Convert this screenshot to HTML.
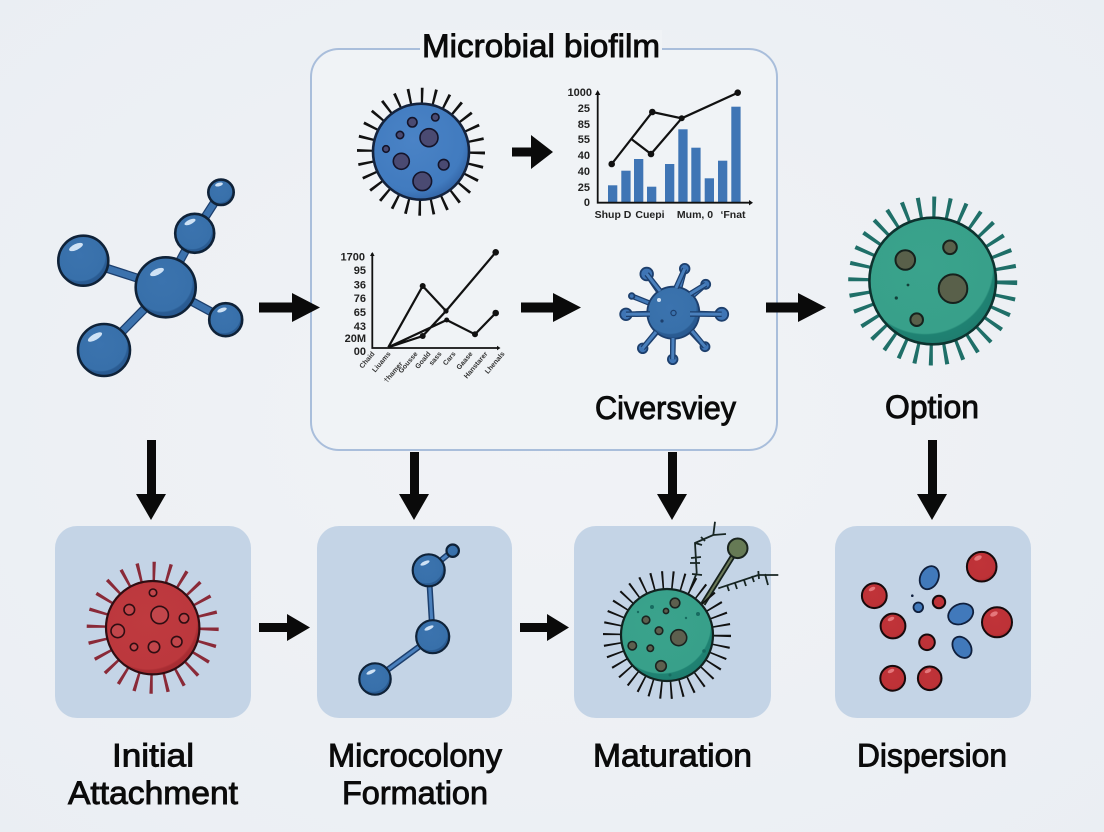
<!DOCTYPE html>
<html><head><meta charset="utf-8"><style>
html,body{margin:0;padding:0;background:#eff2f6}
svg{display:block}
text{font-family:"Liberation Sans",sans-serif;fill:#0b0b0b}
.t{font-size:32px;stroke:#0b0b0b;stroke-width:.9;text-anchor:middle}
.yl{font-size:11px;font-weight:bold;text-anchor:end;fill:#222}
.xl{font-size:10.5px;font-weight:bold;text-anchor:middle;fill:#222}
.rl{font-size:7px;font-weight:bold;text-anchor:end;fill:#333}
.hl{fill:#cfe2f5}
</style></head><body>
<svg width="1104" height="832" viewBox="0 0 1104 832" xmlns="http://www.w3.org/2000/svg">
<defs>
<radialGradient id="bg" cx="50%" cy="50%" r="75%"><stop offset="0" stop-color="#f1f3f6"/><stop offset="1" stop-color="#eaeef3"/></radialGradient>
<radialGradient id="mb" cx="44%" cy="40%" r="62%"><stop offset="0" stop-color="#3b73ae"/><stop offset=".8" stop-color="#3870aa"/><stop offset=".84" stop-color="#2a5c93"/><stop offset="1" stop-color="#285890"/></radialGradient>
<radialGradient id="gr" cx="44%" cy="38%" r="62%"><stop offset="0" stop-color="#3aa38c"/><stop offset=".86" stop-color="#38a08a"/><stop offset=".88" stop-color="#1f8272"/><stop offset="1" stop-color="#1f7e70"/></radialGradient>
<radialGradient id="rd" cx="45%" cy="42%" r="62%"><stop offset="0" stop-color="#bf3a3f"/><stop offset=".84" stop-color="#bc383d"/><stop offset=".87" stop-color="#a92d33"/><stop offset="1" stop-color="#a52b31"/></radialGradient>
<radialGradient id="rb" cx="45%" cy="40%" r="62%"><stop offset="0" stop-color="#c03338"/><stop offset=".8" stop-color="#bd3237"/><stop offset="1" stop-color="#a3262c"/></radialGradient>
<radialGradient id="bc" cx="42%" cy="38%" r="62%"><stop offset="0" stop-color="#4a83c6"/><stop offset=".85" stop-color="#417bbf"/><stop offset="1" stop-color="#3669ab"/></radialGradient>
</defs>
<rect width="1104" height="832" fill="url(#bg)"/>

<!-- frame -->
<rect x="311" y="49" width="466" height="401" rx="28" fill="#f0f3f6" stroke="#a9bedb" stroke-width="2"/>
<rect x="420" y="30" width="242" height="30" fill="#f0f3f6"/>
<text class="t" x="541" y="57" textLength="238" lengthAdjust="spacingAndGlyphs">Microbial biofilm</text>

<!-- panels -->
<rect x="55" y="526" width="196" height="192" rx="22" fill="#c4d4e6"/>
<rect x="317" y="526" width="195" height="192" rx="22" fill="#c4d4e6"/>
<rect x="574" y="526" width="197" height="192" rx="22" fill="#c4d4e6"/>
<rect x="835" y="526" width="196" height="192" rx="22" fill="#c4d4e6"/>

<!-- main molecule -->
<path d="M165.7 287.3L83.3 260.7M165.7 287.3L104 350M165.7 287.3L225.7 319.7M165.7 287.3L194.7 233.3M194.7 233.3L221 192.3" stroke="#1d3f6d" stroke-width="9" fill="none"/>
<path d="M165.7 287.3L83.3 260.7M165.7 287.3L104 350M165.7 287.3L225.7 319.7M165.7 287.3L194.7 233.3M194.7 233.3L221 192.3" stroke="#3c72ad" stroke-width="6.5" fill="none"/>
<g stroke="#0f2238" stroke-width="2.6" fill="url(#mb)">
<circle cx="83.3" cy="260.7" r="25"/>
<circle cx="104" cy="350" r="26"/>
<circle cx="225.7" cy="319.7" r="16.5"/>
<circle cx="194.7" cy="233.3" r="19.5"/>
<circle cx="221" cy="192.3" r="12.7"/>
<circle cx="165.7" cy="287.3" r="30"/>
</g>
<g class="hl">
<ellipse cx="76" cy="247" rx="7.5" ry="3" transform="rotate(-25 76 247)"/>
<ellipse cx="95" cy="337" rx="8" ry="3" transform="rotate(-30 95 337)"/>
<ellipse cx="222" cy="310" rx="5" ry="2" transform="rotate(-20 222 310)"/>
<ellipse cx="190" cy="222" rx="6" ry="2.3" transform="rotate(-25 190 222)"/>
<ellipse cx="219" cy="184.5" rx="4" ry="1.8" transform="rotate(-15 219 184.5)"/>
<ellipse cx="157" cy="272" rx="7.5" ry="3" transform="rotate(-25 157 272)"/>
</g>

<!-- blue cell -->
<circle cx="421" cy="151.7" r="56" fill="none" stroke="#111" stroke-width="16" pathLength="28" stroke-dasharray=".2 .8"/>
<circle cx="421" cy="151.7" r="48" fill="url(#bc)" stroke="#14233d" stroke-width="2.6"/>
<g fill="#4a4a72" stroke="#14142a" stroke-width="1.6">
<circle cx="412.3" cy="122.3" r="4.7"/><circle cx="435.3" cy="117.3" r="3.7"/><circle cx="400" cy="135" r="3.7"/><circle cx="429" cy="137.7" r="9"/><circle cx="386" cy="149" r="3.3"/><circle cx="401.3" cy="161.3" r="8"/><circle cx="443.7" cy="164.7" r="5.3"/><circle cx="422.3" cy="181.3" r="9.3"/>
</g>

<!-- chart 1 -->
<g fill="#3f75b5">
<rect x="608" y="185.3" width="9.3" height="17.4"/><rect x="621.3" y="170.7" width="9.3" height="32"/><rect x="634" y="159" width="9.3" height="43.7"/><rect x="647" y="186.7" width="9.3" height="16"/><rect x="665" y="164" width="9.3" height="38.7"/><rect x="678.3" y="129.3" width="9.3" height="73.4"/><rect x="691.3" y="147.7" width="9.3" height="55"/><rect x="704.7" y="178.3" width="9.3" height="24.4"/><rect x="718" y="160.7" width="9.3" height="42"/><rect x="731.3" y="106.7" width="9.3" height="96"/>
</g>
<path d="M597.7 92V202.7H751" fill="none" stroke="#111" stroke-width="1.8"/>
<path d="M595 95L597.7 90L600.4 95ZM749 200L753 202.7L749 205.4Z" fill="#111"/>
<path d="M611.7 164L652.3 112L681.7 118.3L737.7 92.7M631.7 139.3L651 154L681.7 118.3" fill="none" stroke="#111" stroke-width="2.2"/>
<g fill="#111"><circle cx="611.7" cy="164" r="3.3"/><circle cx="652.3" cy="112" r="3.3"/><circle cx="681.7" cy="118.3" r="3"/><circle cx="737.7" cy="92.7" r="3.3"/><circle cx="651" cy="154" r="3.3"/></g>
<text class="yl" x="592" y="96">1000</text><text class="yl" x="590" y="112">25</text><text class="yl" x="590" y="128">85</text><text class="yl" x="590" y="143">55</text><text class="yl" x="590" y="159">40</text><text class="yl" x="590" y="175">40</text><text class="yl" x="590" y="191">25</text><text class="yl" x="590" y="206">0</text>
<text class="xl" x="613" y="218">Shup D</text><text class="xl" x="650" y="218">Cuepi</text><text class="xl" x="695" y="218">Mum, 0</text><text class="xl" x="733" y="218">‘Fnat</text>

<!-- chart 2 -->
<path d="M372.3 253V348H499" fill="none" stroke="#111" stroke-width="1.8"/>
<path d="M370 256L372.3 252L374.6 256ZM497 345.7L500.5 348L497 350.3Z" fill="#111"/>
<path d="M388.3 347.3L422.7 286L446 311M388.3 347.3L422.7 336L446 311L495.7 252.3M388.3 347.3L446.7 320L475 334.3L495.7 313" fill="none" stroke="#111" stroke-width="2.2"/>
<g fill="#111"><circle cx="422.7" cy="286" r="3"/><circle cx="446" cy="311" r="2.6"/><circle cx="422.7" cy="336" r="3"/><circle cx="495.7" cy="252.3" r="3.3"/><circle cx="446.7" cy="320" r="2.5"/><circle cx="475" cy="334.3" r="3"/><circle cx="495.7" cy="313" r="3.3"/></g>
<text class="yl" x="365" y="260.5">1700</text><text class="yl" x="366" y="274">95</text><text class="yl" x="366" y="288.5">36</text><text class="yl" x="366" y="302">76</text><text class="yl" x="366" y="316">65</text><text class="yl" x="366" y="330">43</text><text class="yl" x="366" y="342" font-size="10">20M</text><text class="yl" x="366" y="355">00</text>
<g>
<text class="rl" transform="translate(375,354) rotate(-50)">Chaid</text>
<text class="rl" transform="translate(391,354) rotate(-50)">Liuams</text>
<text class="rl" transform="translate(403,364) rotate(-50)">†hamer</text>
<text class="rl" transform="translate(418,354) rotate(-50)">Gousse</text>
<text class="rl" transform="translate(431,354) rotate(-50)">Goald</text>
<text class="rl" transform="translate(442,354) rotate(-50)">sass</text>
<text class="rl" transform="translate(456,354) rotate(-50)">Cars</text>
<text class="rl" transform="translate(473,354) rotate(-50)">Gaase</text>
<text class="rl" transform="translate(488,354) rotate(-50)">Hanstarer</text>
<text class="rl" transform="translate(505,354) rotate(-50)">Lhenals</text>
</g>

<!-- virus -->
<g fill="none" stroke="#1d3f6d" stroke-width="5.5">
<path d="M673.3 312.7L646.7 274M673.3 312.7L684.7 268.7M673.3 312.7L705.7 284.3M673.3 312.7L631.7 296M673.3 312.7L721.7 314.3M673.3 312.7L626 314.3M673.3 312.7L642.7 348.3M673.3 312.7L705 346.7M673.3 312.7L672.7 359.3"/>
</g>
<g fill="none" stroke="#4279b8" stroke-width="3">
<path d="M673.3 312.7L646.7 274M673.3 312.7L684.7 268.7M673.3 312.7L705.7 284.3M673.3 312.7L631.7 296M673.3 312.7L721.7 314.3M673.3 312.7L626 314.3M673.3 312.7L642.7 348.3M673.3 312.7L705 346.7M673.3 312.7L672.7 359.3"/>
</g>
<g fill="#3f75b5" stroke="#1d3f6d" stroke-width="1.8">
<circle cx="646.7" cy="274" r="6.3"/><circle cx="684.7" cy="268.7" r="4.8"/><circle cx="705.7" cy="284.3" r="4.5"/><circle cx="631.7" cy="296" r="2.8"/><circle cx="721.7" cy="314.3" r="6.5"/><circle cx="626" cy="314.3" r="5.8"/><circle cx="642.7" cy="348.3" r="4.8"/><circle cx="705" cy="346.7" r="4.5"/><circle cx="672.7" cy="359.3" r="4.8"/>
</g>
<circle cx="673.3" cy="312.7" r="26" fill="url(#mb)" stroke="#1d3f6d" stroke-width="1.8"/>
<g stroke="#1d3f6d" stroke-width="5.5" fill="none"><path d="M660 291L646.7 274M676 288L684.7 268.7M690 294L705.7 284.3M690 314L721.7 314.3M650 314L626 314.3M656 332L642.7 348.3M692 331L705 346.7M673 338L672.7 359.3"/></g>
<g stroke="#4a80bd" stroke-width="3" fill="none"><path d="M660 291L646.7 274M676 288L684.7 268.7M690 294L705.7 284.3M690 314L721.7 314.3M650 314L626 314.3M656 332L642.7 348.3M692 331L705 346.7M673 338L672.7 359.3"/></g>
<circle cx="673.5" cy="313" r="2.6" fill="none" stroke="#1d3f6d" stroke-width="1.2"/>
<circle cx="662" cy="321" r="1.6" fill="#1d3f6d"/>
<circle cx="659" cy="300" r="2" fill="#cfe0f3"/>
<text class="t" x="665.5" y="419" textLength="141" lengthAdjust="spacingAndGlyphs">Civersviey</text>

<!-- big green -->
<circle cx="932.7" cy="281" r="74" fill="none" stroke="#1f6f68" stroke-width="21" pathLength="32" stroke-dasharray=".25 .75"/>
<circle cx="932.7" cy="281" r="63.3" fill="url(#gr)" stroke="#0d332f" stroke-width="2.6"/>
<g stroke="#16221d" stroke-width="2" fill="#59604a">
<circle cx="905.3" cy="260" r="9.8"/><circle cx="950" cy="247.3" r="6.8"/><circle cx="953" cy="288.7" r="14.3"/><circle cx="916.7" cy="319.7" r="6.3"/>
</g>
<circle cx="908" cy="285" r="1.4" fill="#12403a"/><circle cx="896.3" cy="298" r="1.6" fill="#12403a"/>
<text class="t" x="932" y="418" textLength="94" lengthAdjust="spacingAndGlyphs">Option</text>

<!-- red cell -->
<circle cx="152.7" cy="627.7" r="56" fill="none" stroke="#8a2a38" stroke-width="20" pathLength="24" stroke-dasharray=".2 .8"/>
<circle cx="152.7" cy="627.7" r="46.7" fill="url(#rd)" stroke="#2f0d12" stroke-width="2.2"/>
<g fill="#c2464b" stroke="#2f0d12" stroke-width="1.6">
<circle cx="153" cy="592.7" r="3.7"/><circle cx="129.3" cy="609.7" r="5.3"/><circle cx="159.7" cy="615" r="8.7"/><circle cx="184" cy="618.3" r="4.7"/><circle cx="117.7" cy="631" r="6.7"/><circle cx="134" cy="647" r="3.7"/><circle cx="154" cy="647" r="5.7"/><circle cx="176.7" cy="641.7" r="5.3"/>
</g>

<!-- panel 2 molecule -->
<path d="M428.7 570.3L452.7 550.7M428.7 570.3L432.7 636.7L375 679" fill="none" stroke="#1d3f6d" stroke-width="6"/>
<path d="M428.7 570.3L452.7 550.7M428.7 570.3L432.7 636.7L375 679" fill="none" stroke="#4a80bd" stroke-width="3"/>
<g fill="url(#mb)" stroke="#0f2238" stroke-width="2.2">
<circle cx="428.7" cy="570.3" r="16"/><circle cx="452.7" cy="550.7" r="6.2"/><circle cx="432.7" cy="636.7" r="16.5"/><circle cx="375" cy="679" r="15.7"/>
</g>
<g class="hl">
<ellipse cx="425" cy="563" rx="5" ry="1.8" transform="rotate(-25 425 563)"/>
<ellipse cx="429" cy="628" rx="5" ry="1.8" transform="rotate(-25 429 628)"/>
<ellipse cx="371" cy="672" rx="5" ry="1.8" transform="rotate(-25 371 672)"/>
</g>

<!-- panel 3 cell -->
<path d="M703 604L737.7 548.3" stroke="#15201c" stroke-width="5.5"/>
<path d="M703 604L737.7 548.3" stroke="#6c7a5a" stroke-width="2"/>
<circle cx="737.7" cy="548.3" r="9.8" fill="#667a55" stroke="#1a241e" stroke-width="2"/>
<g fill="none" stroke="#172522" stroke-width="1.8">
<path d="M690 590L696.7 573L695 543L713.3 535L715 521.7M713.3 535L726 534M690 563L700 563M691 558L701 557M692 574L702 575M695 543L702 545M701 537L705 541"/>
<path d="M718.3 588.3L758.3 575L778.3 575M727 585L729 591M735 583L737 589M744 580L746 586M752 576L754 582M758.3 571L759 579M765 574L768 585"/>
</g>
<circle cx="667" cy="635" r="55" fill="none" stroke="#111" stroke-width="18" pathLength="34" stroke-dasharray=".18 .82"/>
<circle cx="667" cy="635" r="46" fill="url(#gr)" stroke="#11221f" stroke-width="2.2"/>
<g fill="#5d5f4e" stroke="#1a2420" stroke-width="1.6">
<circle cx="675" cy="603" r="4.8"/><circle cx="666" cy="611" r="2.6"/><circle cx="646" cy="620" r="3.8"/><circle cx="659" cy="630.7" r="3.8"/><circle cx="678.7" cy="637.7" r="8"/><circle cx="632.3" cy="645.7" r="4.2"/><circle cx="650.3" cy="648.3" r="3.2"/><circle cx="661" cy="666" r="5.3"/>
</g>
<g fill="#176b60"><circle cx="652" cy="607" r="2"/><circle cx="698" cy="614" r="2"/><circle cx="638" cy="612" r="1.2"/><circle cx="686" cy="618" r="1.2"/><circle cx="704" cy="651" r="1.8"/><circle cx="670" cy="675" r="1.5"/></g>

<!-- panel 4 -->
<g fill="url(#rb)" stroke="#160a0c" stroke-width="2">
<circle cx="874.3" cy="595.7" r="12.4"/><circle cx="981.7" cy="566.7" r="14.8"/><circle cx="893" cy="626" r="12.4"/><circle cx="997" cy="622.3" r="15"/><circle cx="939" cy="602" r="6.2"/><circle cx="927" cy="642.3" r="7.8"/><circle cx="892.7" cy="678.3" r="12.4"/><circle cx="929.7" cy="678.3" r="11.8"/>
</g>
<g fill="#e5777b">
<ellipse cx="872" cy="589" rx="3.5" ry="1.8" transform="rotate(-25 872 589)"/>
<ellipse cx="978" cy="558" rx="4" ry="2.2" transform="rotate(-25 978 558)"/>
<ellipse cx="891" cy="619" rx="3.5" ry="1.8" transform="rotate(-25 891 619)"/>
<ellipse cx="994" cy="614" rx="4" ry="2.2" transform="rotate(-25 994 614)"/>
<ellipse cx="891" cy="671" rx="3.5" ry="1.8" transform="rotate(-25 891 671)"/>
<ellipse cx="928" cy="671" rx="3.5" ry="1.8" transform="rotate(-25 928 671)"/>
</g>
<g fill="#4179bb" stroke="#0f1f3d" stroke-width="1.8">
<ellipse cx="929.3" cy="577.7" rx="9" ry="12" transform="rotate(25 929.3 577.7)"/>
<ellipse cx="960.7" cy="614" rx="13" ry="9.8" transform="rotate(-25 960.7 614)"/>
<ellipse cx="962" cy="647.3" rx="8.5" ry="11.5" transform="rotate(-35 962 647.3)"/>
<circle cx="918.3" cy="607.3" r="4.8"/>
</g>
<circle cx="912.3" cy="595.7" r="1.3" fill="#0f1f3d"/>

<!-- arrows -->
<g fill="#0a0a0a">
<path d="M259 302.5H292V293L320 307.5L292 322V312.5H259Z"/>
<path d="M521 302.5H553V293L581 307.5L553 322V312.5H521Z"/>
<path d="M766 302.5H798V293L826 307.5L798 322V312.5H766Z"/>
<path d="M512 147.5H531V135L553 152L531 169V156.5H512Z"/>
<path d="M259 623H287V614L310 627.5L287 641V632H259Z"/>
<path d="M520 623H547V614L569 627.5L547 641V632H520Z"/>
<path d="M147 440H156V494H166L151 520L136 494H147Z"/>
<path d="M410 452H419V494H429L414 520L399 494H410Z"/>
<path d="M668 452H677V494H687L672 520L657 494H668Z"/>
<path d="M928 440H937V494H947L932 520L917 494H928Z"/>
</g>

<!-- labels -->
<text class="t" x="153" y="766.5" textLength="82" lengthAdjust="spacingAndGlyphs">Initial</text>
<text class="t" x="153" y="804" textLength="170" lengthAdjust="spacingAndGlyphs">Attachment</text>
<text class="t" x="415" y="766.5" textLength="174" lengthAdjust="spacingAndGlyphs">Microcolony</text>
<text class="t" x="415" y="804" textLength="146" lengthAdjust="spacingAndGlyphs">Formation</text>
<text class="t" x="672.5" y="766.5" textLength="159" lengthAdjust="spacingAndGlyphs">Maturation</text>
<text class="t" x="932" y="766.5" textLength="150" lengthAdjust="spacingAndGlyphs">Dispersion</text>
</svg>
</body></html>
